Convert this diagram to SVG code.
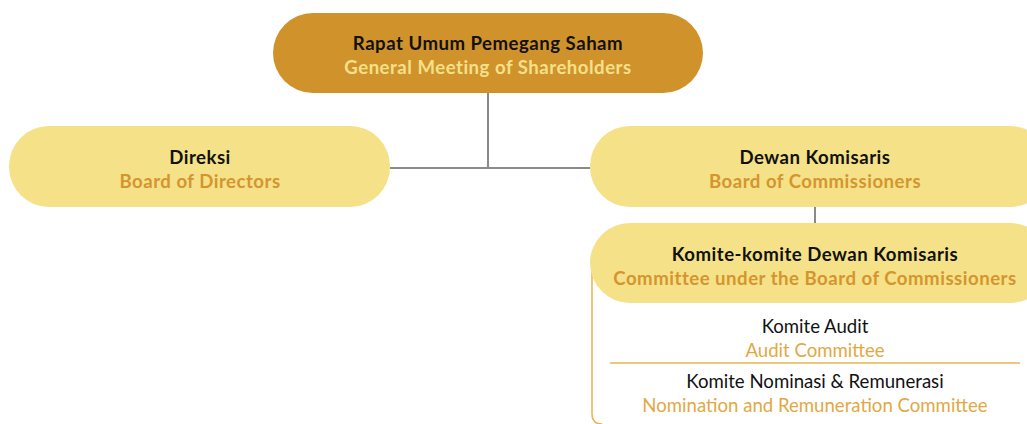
<svg xmlns="http://www.w3.org/2000/svg" width="1027" height="424" viewBox="0 0 1027 424">
<style>
.t{font-family:"Lato","Noto Sans",sans-serif;font-size:18.6px;text-anchor:middle;dominant-baseline:central}
.b{font-weight:bold;letter-spacing:0.5px}
.k{fill:#111}
.g{fill:#D4952F}
.lg{fill:#F5E08A}
.o{fill:#E2A844}
.n{fill:#F5E187}
.c{stroke:#8a8a8a;stroke-width:2;fill:none}
</style>
<rect width="1027" height="424" fill="#fff"/>
<g id="connectors">
<path class="c" d="M488 93V168M390 168H590"/>
<path class="c" d="M815 207V223"/>
</g>
<g id="committee-box">
<path d="M592 270V414Q592 424 602 424" fill="none" stroke="#E8B44E" stroke-width="1.5"/>
<line x1="610" y1="363" x2="1020" y2="363" stroke="#E8B44E" stroke-width="1.5"/>
</g>
<g id="rups">
<rect x="273" y="13" width="430" height="80" rx="40" fill="#D0922B"/>
<text class="t b k" x="488" y="43">Rapat Umum Pemegang Saham</text>
<text class="t b lg" x="488" y="67">General Meeting of Shareholders</text>
</g>
<g id="direksi">
<rect x="9" y="126" width="381" height="81" rx="40" class="n"/>
<text class="t b k" x="200" y="157">Direksi</text>
<text class="t b g" x="200" y="181">Board of Directors</text>
</g>
<g id="dekom">
<rect x="590" y="126" width="460" height="81" rx="40" class="n"/>
<text class="t b k" x="815" y="157">Dewan Komisaris</text>
<text class="t b g" x="815" y="181">Board of Commissioners</text>
</g>
<g id="komite">
<rect x="590" y="223" width="460" height="80" rx="40" class="n"/>
<text class="t b k" x="815" y="254">Komite-komite Dewan Komisaris</text>
<text class="t b g" x="815" y="278">Committee under the Board of Commissioners</text>
</g>
<g id="audit">
<text class="t k" x="815" y="326">Komite Audit</text>
<text class="t o" x="815" y="350">Audit Committee</text>
</g>
<g id="nominasi">
<text class="t k" x="815" y="381">Komite Nominasi &amp; Remunerasi</text>
<text class="t o" x="815" y="405">Nomination and Remuneration Committee</text>
</g>
</svg>
